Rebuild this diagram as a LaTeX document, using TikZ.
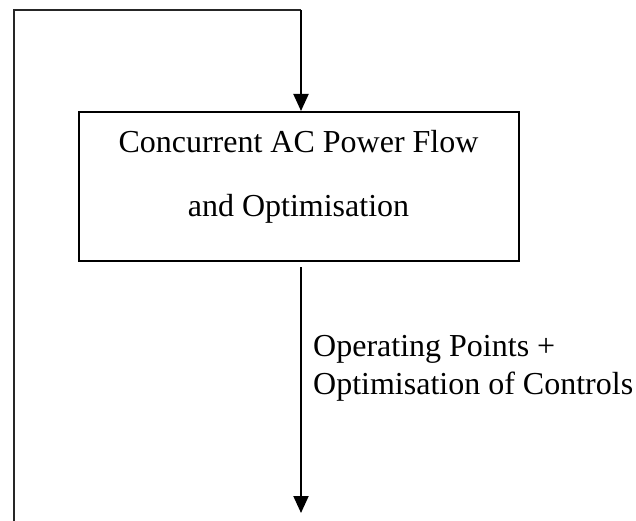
\documentclass[tikz,border=0pt]{standalone}
\usepackage{fontspec}
\setmainfont{Liberation Serif}
\usetikzlibrary{arrows.meta}
\begin{document}
\begin{tikzpicture}[x=1pt,y=-1pt]
\tikzstyle{flowline}=[line width=2pt,-{Triangle[width=15pt,length=17pt]}]
\tikzstyle{loopline}=[line width=1.3pt,black!85]
\tikzstyle{every node}+=[inner sep=0pt]
\useasboundingbox (0,0) rectangle (636,521);
\node [draw, line width=2pt, minimum width=440pt, minimum height=149pt] (solver) at (298.5,186.5) {};
\node [anchor=base, align=center, font=\fontsize{32}{63}\selectfont] (solvertext) at (298.5,216) {Concurrent AC Power Flow\\and Optimisation};
\coordinate (corner) at (14,10);
\coordinate (top) at (301,10);
\coordinate (bottom) at (14,521);
\coordinate (start) at (301,267);
\coordinate (out) at (301,513);
% feedback loop
\draw [loopline] (bottom) -- (corner) -- (top);
\draw [flowline] (top) -- (top |- solver.north);
\draw [flowline] (start) -- (out);
\node [anchor=base west, align=left, font=\fontsize{32}{38}\selectfont] (result) at (313,394.5) {Operating Points +\\Optimisation of Controls};
\end{tikzpicture}
\end{document}
